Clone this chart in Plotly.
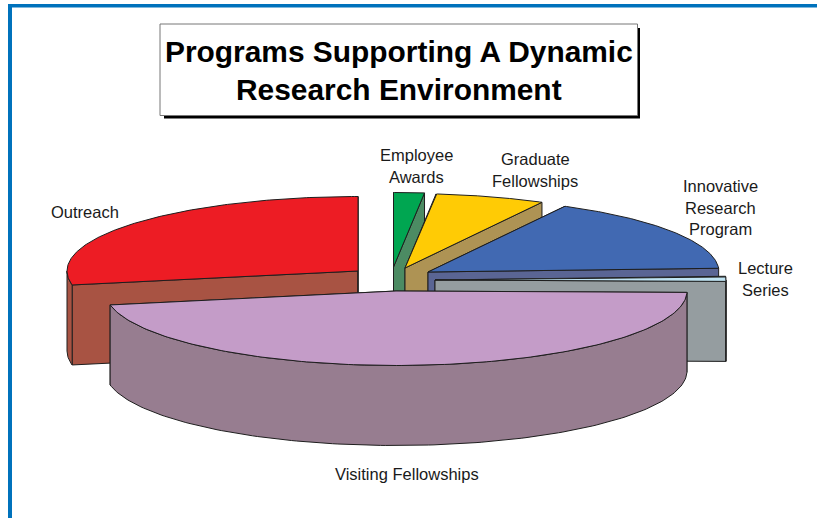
import numpy as np
import plotly.graph_objects as go

# ---- data (clockwise from 12 o'clock), percent of the total
categories = ["Employee Awards", "Graduate Fellowships", "Innovative Research Program",
              "Lecture Series", "Visiting Fellowships", "Outreach"]
values = [1.7, 6.1, 16.4, 1.1, 46.7, 28.0]
title_lines = ["Programs Supporting A Dynamic", "Research Environment"]

# ---- styling
top_colors = ["#00A651", "#FFCB05", "#4169B2", "#BFE3F2", "#C49CC8", "#ED1C24"]
side_colors = ["#4C8B63", "#AE9354", "#5A6594", "#959DA0", "#977D90", "#A85343"]
explode_x = [-1.5, 10, 33, 40, 1, -37]   # pull-out of each slice from the pie centre
explode_y = [-5, -4, 0, 8, 19, -1]
label_lines = [["Employee", "Awards"], ["Graduate", "Fellowships"],
               ["Innovative", "Research", "Program"], ["Lecture", "Series"],
               ["Visiting Fellowships"], ["Outreach"]]
label_x = [416, 535, 720, 765, 407, 85]
label_y = [155, 159, 186, 268, 474, 212]
LINE_STEP = 21.5
CX, CY, RX, RY, DEPTH = 395, 272, 291, 74.5, 80
EDGE = "#1e1e1e"
FRAME = "#0072BC"

fig = go.Figure()


def poly(xs, ys, color):
    fig.add_trace(go.Scatter(x=list(xs) + [xs[0]], y=list(ys) + [ys[0]], mode="lines",
                             fill="toself", fillcolor=color,
                             line=dict(color=EDGE, width=1), hoverinfo="skip",
                             showlegend=False))


# angular extents derived from the values
edges = 90 - np.concatenate([[0], np.cumsum(values)]) * 3.6
slices = []
for i in range(len(values)):
    slices.append((i, edges[i], edges[i + 1]))

# back to front
order = [5, 0, 1, 2, 3, 4]
for i in order:
    a0, a1 = slices[i][1], slices[i][2]
    ax, ay = CX + explode_x[i], CY + explode_y[i]
    t = np.radians(np.linspace(a0, a1, 160))
    px, py = ax + RX * np.cos(t), ay - RY * np.sin(t)

    # radial faces
    poly([ax, px[0], px[0], ax], [ay, py[0], py[0] + DEPTH, ay + DEPTH], side_colors[i])
    poly([ax, px[-1], px[-1], ax], [ay, py[-1], py[-1] + DEPTH, ay + DEPTH], side_colors[i])

    # outer wall: the part of the rim on the near half of the ellipse
    near = np.sin(t) <= 0
    if near.sum() > 1:
        wx, wy = px[near], py[near]
        poly(np.concatenate([wx, wx[::-1]]), np.concatenate([wy, wy[::-1] + DEPTH]), side_colors[i])

    # top surface
    poly(np.concatenate([[ax], px]), np.concatenate([[ay], py]), top_colors[i])

shapes = [
    dict(type="rect", x0=8, x1=12, y0=4, y1=518, fillcolor=FRAME, line_width=0),
    dict(type="rect", x0=8, x1=817, y0=4, y1=7.5, fillcolor=FRAME, line_width=0),
    dict(type="rect", x0=164, x1=640, y0=28, y1=118.5, fillcolor="#000000", line_width=0),
    dict(type="rect", x0=160, x1=637.5, y0=24, y1=115.5, fillcolor="#FFFFFF",
         line=dict(color="#777777", width=1)),
]

annotations = []
for lines, lx, ly in zip(label_lines, label_x, label_y):
    for k, text in enumerate(lines):
        annotations.append(dict(x=lx, y=ly + k * LINE_STEP, xref="x", yref="y", text=text,
                                showarrow=False, xanchor="center", yanchor="middle",
                                font=dict(family="Liberation Sans", size=16.5, color="#1a1a1a")))
for k, text in enumerate(title_lines):
    annotations.append(dict(x=399, y=51 + k * 38, xref="x", yref="y", text=text,
                            showarrow=False, xanchor="center", yanchor="middle",
                            font=dict(family="Liberation Sans", size=29.9, color="#000000",
                                      weight="bold")))

fig.update_layout(
    width=817, height=518, margin=dict(l=0, r=0, t=0, b=0),
    paper_bgcolor="#FFFFFF", plot_bgcolor="#FFFFFF", showlegend=False,
    xaxis=dict(range=[0, 817], visible=False, fixedrange=True),
    yaxis=dict(range=[518, 0], visible=False, fixedrange=True),
    shapes=shapes, annotations=annotations, hovermode=False,
)
fig.write_html("out.html", config=dict(displayModeBar=False),
               post_script="document.body.style.margin='0';document.body.style.overflow='hidden';")
